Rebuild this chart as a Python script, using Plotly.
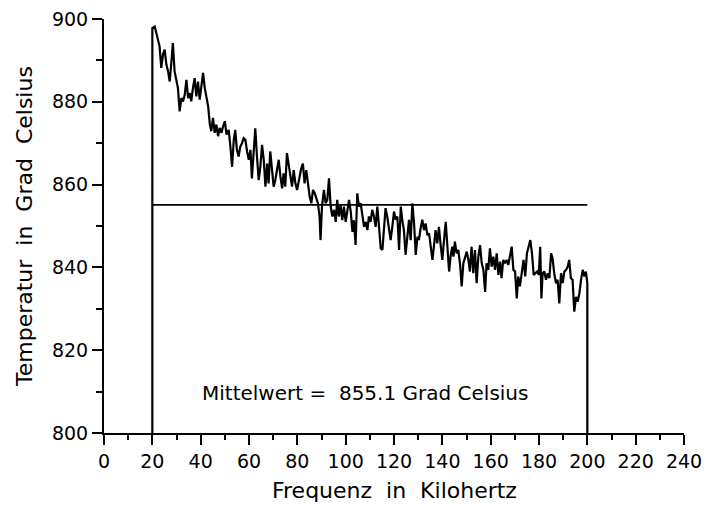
import plotly.graph_objects as go

# Frequency (kHz) and temperature (deg C)
freq_khz = [
    20.0, 20.0, 21.0, 21.7, 22.3, 23.0, 23.7, 24.4, 25.1, 25.8, 26.5, 27.2, 27.9, 28.5, 29.2, 29.9,
    30.6, 31.3, 32.0, 32.7, 33.4, 34.1, 34.8, 35.5, 36.1, 36.8, 37.5, 38.2, 38.9, 39.6, 40.3, 41.0,
    41.7, 42.4, 43.1, 43.8, 44.4, 45.1, 45.8, 46.5, 47.2, 47.9, 48.6, 49.3, 50.0, 50.7,
    51.6, 52.3, 53.0, 53.7, 54.3, 55.0, 55.7, 56.4, 57.1, 57.8, 58.5, 59.2, 59.9, 60.6, 61.2, 61.9,
    62.6, 63.3, 64.0, 64.7, 65.4, 66.1, 66.8, 67.5, 68.1, 68.8, 69.5, 70.2, 70.9, 71.6, 72.3, 73.0,
    73.7, 74.3, 75.0, 75.7, 76.4, 77.1, 77.8, 78.5, 79.2, 79.9, 80.6,
    81.0, 81.6, 82.3, 83.0, 83.7, 84.4, 85.1, 85.8, 86.5, 87.2, 87.9, 88.5, 89.2, 89.6, 90.2, 91.0,
    91.7, 92.4, 93.1, 93.8, 94.5, 95.2, 95.9, 96.5, 97.2, 97.9, 98.6, 99.3, 100.0, 100.7, 101.4, 102.1,
    102.8, 103.4, 104.1, 104.8, 105.5, 106.2, 106.9, 107.6, 108.3, 109.0, 109.6, 110.3, 111.0, 111.7,
    112.4, 113.1, 113.8, 114.5, 115.2, 115.9, 116.5, 117.2, 117.9, 118.6, 119.3, 120.0, 120.7, 121.4,
    122.1, 122.8, 123.4, 124.1, 124.8, 125.5, 126.2, 126.9, 127.6, 128.3, 129.0, 129.7, 130.3, 131.0,
    131.7, 132.4, 133.1, 133.8, 134.5, 135.2, 135.9, 136.5, 137.2, 137.9, 138.6, 139.3, 140.0, 140.7,
    141.4, 142.1, 142.8, 143.4, 144.1,
    144.6, 145.2, 145.9, 146.6, 147.3, 148.0, 148.7, 149.4, 150.1, 150.8, 151.4, 152.1, 152.8, 153.5,
    154.2, 154.9, 155.6, 156.3, 157.0, 157.7, 158.3, 159.0, 159.7, 160.4, 161.1, 161.8, 162.5, 163.2,
    163.9, 164.5, 165.2, 165.9, 166.6, 167.3, 168.0, 168.7, 169.4, 170.1, 170.8, 171.4, 172.1, 172.8,
    173.6, 174.3, 175.0, 175.7, 176.4, 177.1, 177.8, 178.5, 179.2, 179.9, 180.5, 181.0, 181.5, 182.2,
    182.9, 183.6, 184.3, 185.0, 185.6, 186.3, 187.0, 187.7, 188.4, 189.1, 189.8, 190.5, 191.2, 191.9,
    192.5, 193.2, 193.9, 194.6, 195.3, 196.0, 196.7, 197.4, 198.1, 198.8, 199.4, 200.0, 200.0,
]

temp_c = [
    800.0, 897.8, 898.2, 896.6, 894.6, 893.4, 888.2, 891.4, 892.6, 889.0, 887.4, 884.9, 889.8, 894.2, 887.4, 884.9,
    883.3, 877.7, 880.9, 880.1, 881.7, 885.3, 880.9, 882.1, 880.1, 883.3, 885.7, 881.3, 884.9, 880.5, 883.7, 887.0,
    883.3, 880.5, 878.9, 874.5, 872.9, 876.1, 872.5, 874.5, 871.7, 873.7, 872.5, 874.1, 875.3, 872.1,
    873.2, 869.2, 864.3, 870.8, 873.2, 868.4, 866.8, 869.2, 870.0, 871.2, 870.8, 868.0, 866.0, 868.4, 861.5, 867.6,
    873.6, 866.8, 861.1, 864.3, 869.6, 866.0, 859.5, 865.1, 860.3, 868.0, 864.3, 859.5, 861.1, 863.5, 866.0, 861.9,
    859.1, 862.7, 859.5, 867.6, 865.1, 862.7, 859.5, 863.5, 860.3, 858.7, 861.1,
    862.7, 863.9, 865.1, 860.3, 863.5, 859.5, 857.1, 855.5, 858.7, 857.9, 856.7, 855.5, 852.3, 846.6, 854.7, 858.7,
    855.5, 856.3, 861.5, 854.7, 852.3, 853.9, 851.0, 856.3, 852.3, 855.1, 851.4, 854.7, 851.0, 853.9, 856.3, 853.5,
    848.6, 851.4, 845.4, 857.9, 854.7, 855.5, 852.3, 849.8, 851.0, 849.0, 852.3, 851.0, 853.9, 852.3,
    849.8, 854.7, 849.8, 844.6, 844.2, 849.8, 854.3, 852.3, 849.0, 846.6, 849.8, 853.5, 851.5, 852.3,
    844.2, 854.7, 851.5, 849.0, 843.0, 848.2, 851.5, 846.6, 855.5, 850.7, 843.0, 847.4, 846.6, 849.4,
    851.5, 849.0, 850.6, 847.8, 848.2, 845.0, 841.8, 845.0, 849.0, 845.8, 849.8, 845.4, 841.8, 846.6,
    851.0, 845.0, 839.0, 842.6, 845.0,
    842.6, 846.2, 843.4, 844.2, 841.0, 835.4, 841.0, 842.6, 843.8, 841.8, 839.0, 845.0, 838.6, 844.2,
    836.2, 842.6, 845.4, 841.0, 839.4, 834.1, 841.0, 839.4, 844.6, 840.2, 842.6, 839.4, 843.4, 838.2,
    841.4, 837.4, 841.8, 841.0, 841.8, 840.6, 842.6, 845.0, 839.4, 839.0, 832.5, 837.8, 835.4, 839.0,
    841.8, 837.8, 843.4, 845.0, 846.6, 843.4, 838.2, 838.6, 839.0, 838.2, 845.0, 832.5, 838.6, 839.0,
    837.0, 838.6, 837.4, 843.4, 842.2, 838.6, 836.2, 837.0, 831.3, 838.6, 836.2, 839.0, 839.4, 840.2,
    841.8, 837.4, 837.0, 829.3, 832.9, 831.7, 833.7, 837.0, 839.4, 837.8, 839.0, 836.2, 800.0,
]

mean_span = [20.0, 200.0]
mean_value = 855.1
mean_label = "Mittelwert =\u00a0\u00a0855.1 Grad Celsius"

x_title = "Frequenz\u00a0 in\u00a0 Kilohertz"
y_title = "Temperatur\u00a0 in\u00a0 Grad\u00a0 Celsius"

FONT = "DejaVu Sans"

fig = go.Figure()
fig.add_trace(go.Scatter(x=freq_khz, y=temp_c, mode="lines",
                         line=dict(color="black", width=2.2), hoverinfo="skip"))
fig.add_trace(go.Scatter(x=mean_span, y=[mean_value, mean_value], mode="lines",
                         line=dict(color="black", width=1.8), hoverinfo="skip"))

fig.add_annotation(x=108, y=809.7, xref="x", yref="y", text=mean_label, showarrow=False,
                   font=dict(family=FONT, size=20, color="black"))
fig.add_annotation(x=0.5, y=-0.14, xref="paper", yref="paper", text=x_title, showarrow=False,
                   font=dict(family=FONT, size=22, color="black"), yanchor="middle")
fig.add_annotation(x=-0.138, y=0.5, xref="paper", yref="paper", text=y_title, showarrow=False,
                   textangle=-90, font=dict(family=FONT, size=22, color="black"), xanchor="center")

axis_common = dict(showgrid=False, zeroline=False, showline=True, linecolor="black", linewidth=2,
                   ticks="outside", ticklen=10, tickwidth=2, tickcolor="black", automargin=False,
                   tickfont=dict(family=FONT, size=19, color="black"))

fig.update_xaxes(range=[0, 240], tickvals=list(range(0, 241, 20)),
                 minor=dict(tickvals=list(range(10, 240, 20)), ticks="outside", ticklen=5,
                            tickwidth=2, tickcolor="black"),
                 **axis_common)
fig.update_yaxes(range=[800, 900], tickvals=list(range(800, 901, 20)),
                 minor=dict(tickvals=list(range(810, 900, 20)), ticks="outside", ticklen=6,
                            tickwidth=2, tickcolor="black"),
                 **axis_common)

fig.update_layout(width=704, height=507, margin=dict(l=104, r=20, t=19, b=74, autoexpand=False),
                  paper_bgcolor="white", plot_bgcolor="white", showlegend=False,
                  font=dict(family=FONT, color="black"))

fig.write_html("out.html")
